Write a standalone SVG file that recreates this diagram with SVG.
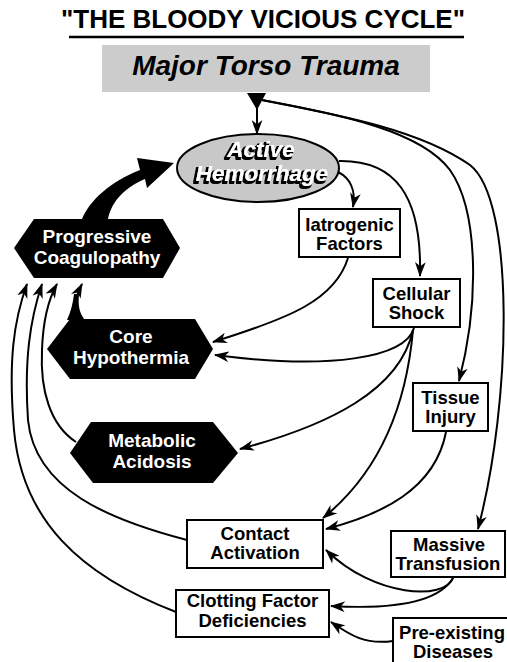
<svg xmlns="http://www.w3.org/2000/svg" width="507" height="662" viewBox="0 0 507 662">
<style>
  text { font-family: "Liberation Sans", Arial, sans-serif; font-weight: bold; }
  .box { fill: #fff; stroke: #000; stroke-width: 2; }
  .bt { font-size: 18.5px; fill: #000; text-anchor: middle; }
  .hex { fill: #000; }
  .ht { font-size: 19px; fill: #fff; text-anchor: middle; }
  .c { fill: none; stroke: #000; stroke-width: 2; marker-end: url(#ah); }
</style>
<defs>
  <marker id="ah" viewBox="0 0 14 10" refX="13" refY="5" markerWidth="15" markerHeight="11" markerUnits="userSpaceOnUse" orient="auto">
    <path d="M0,0 L14,5 L0,10 L4,5 Z" fill="#000"/>
  </marker>
  <filter id="shadow" x="-10%" y="-30%" width="120%" height="160%">
    <feMorphology in="SourceAlpha" operator="dilate" radius="0.6" result="thick"/>
    <feOffset in="thick" dx="-1.6" dy="1.6" result="off"/>
    <feFlood flood-color="#000"/>
    <feComposite in2="off" operator="in" result="sh"/>
    <feMerge>
      <feMergeNode in="sh"/>
      <feMergeNode in="SourceGraphic"/>
    </feMerge>
  </filter>
</defs>
<rect width="507" height="662" fill="#fff"/>

<g id="title">
  <text x="263" y="28" font-size="26" text-anchor="middle">"THE BLOODY VICIOUS CYCLE"</text>
  <line x1="69" y1="37" x2="464" y2="37" stroke="#000" stroke-width="2.5"/>
</g>

<g id="major-torso-trauma">
  <rect x="102" y="45" width="328" height="47" fill="#cccccc"/>
  <text x="266" y="75" font-size="28" font-style="italic" text-anchor="middle">Major Torso Trauma</text>
</g>

<g id="active-hemorrhage">
  <ellipse cx="258" cy="168" rx="81" ry="34" fill="#c8c8c8" stroke="#000" stroke-width="2"/>
  <g font-size="22.5" font-style="italic" text-anchor="middle" fill="#fff" filter="url(#shadow)">
    <text x="261" y="157">Active</text>
    <text x="262" y="181">Hemorrhage</text>
  </g>
</g>

<g id="iatrogenic-factors">
  <rect class="box" x="299" y="209" width="101" height="48"/>
  <text class="bt" x="349.5" y="231">Iatrogenic</text>
  <text class="bt" x="349.5" y="250">Factors</text>
</g>

<g id="cellular-shock">
  <rect class="box" x="373" y="279" width="87" height="48"/>
  <text class="bt" x="416.5" y="300">Cellular</text>
  <text class="bt" x="416.5" y="319">Shock</text>
</g>

<g id="tissue-injury">
  <rect class="box" x="413" y="383" width="75" height="48"/>
  <text class="bt" x="450.5" y="404">Tissue</text>
  <text class="bt" x="450.5" y="423">Injury</text>
</g>

<g id="massive-transfusion">
  <rect class="box" x="391" y="531" width="114" height="46"/>
  <text class="bt" x="449" y="551">Massive</text>
  <text class="bt" x="448" y="570">Transfusion</text>
</g>

<g id="pre-existing-diseases">
  <rect class="box" x="393" y="618" width="116" height="48"/>
  <text class="bt" x="452" y="639">Pre-existing</text>
  <text class="bt" x="453" y="658">Diseases</text>
</g>

<g id="contact-activation">
  <rect class="box" x="187" y="520" width="136" height="48"/>
  <text class="bt" x="255" y="540">Contact</text>
  <text class="bt" x="255" y="559">Activation</text>
</g>

<g id="clotting-factor-deficiencies">
  <rect class="box" x="176" y="590" width="153" height="47"/>
  <text class="bt" x="252.5" y="607">Clotting Factor</text>
  <text class="bt" x="252.5" y="627">Deficiencies</text>
</g>

<g id="progressive-coagulopathy">
  <polygon class="hex" points="14,248 34,219 163,219 180,248 163,278 34,278"/>
  <text class="ht" x="97" y="243">Progressive</text>
  <text class="ht" x="97" y="264">Coagulopathy</text>
</g>

<g id="core-hypothermia">
  <polygon class="hex" points="47,349 70,319 195,319 213,349 195,379 70,379"/>
  <text class="ht" x="131" y="343">Core</text>
  <text class="ht" x="131" y="364">Hypothermia</text>
</g>

<g id="metabolic-acidosis">
  <polygon class="hex" points="70,453 91,422 213,422 238,453 213,483 93,483"/>
  <text class="ht" x="152" y="447">Metabolic</text>
  <text class="ht" x="152" y="468">Acidosis</text>
</g>

<g id="connectors">
  <!-- trauma to hemorrhage -->
  <polygon points="247,93 266,93 257,110" fill="#000"/>
  <line class="c" x1="257" y1="100" x2="257" y2="134"/>
  <!-- trauma to tissue injury / massive transfusion -->
  <path class="c" d="M262,100 C340,115 420,130 450,170 C478,210 480,300 459,381"/>
  <path class="c" d="M262,100 C340,115 420,130 470,165 C515,200 512,400 478,529"/>
  <!-- hemorrhage to iatrogenic / cellular shock -->
  <path class="c" d="M338,172 C350,178 356,190 353,207"/>
  <path class="c" d="M339,161 C395,160 422,195 420,276"/>
  <!-- progressive coagulopathy to hemorrhage (thick) -->
  <path d="M82,219 C90,200 110,182 140,170 L137,158 L174,163 L147,188 L145,179 C126,187 112,200 108,219 Z" fill="#000"/>
  <!-- iatrogenic to core hypothermia -->
  <path class="c" d="M348,258 C335,300 290,318 213,342"/>
  <!-- cellular shock outputs -->
  <path class="c" d="M414,328 C405,358 330,370 215,355"/>
  <path class="c" d="M413,330 C400,390 330,425 240,449"/>
  <path class="c" d="M413,330 C405,420 370,480 323,518"/>
  <!-- tissue injury to contact activation -->
  <path class="c" d="M446,432 C435,490 380,515 326,529"/>
  <!-- massive transfusion outputs -->
  <path class="c" d="M453,578 C445,600 375,598 326,550"/>
  <path class="c" d="M453,578 C440,600 400,610 331,606"/>
  <!-- pre-existing to clotting -->
  <path class="c" d="M393,641 C365,645 350,635 331,622"/>
  <!-- feedback to progressive coagulopathy -->
  <path class="c" d="M176,612 C80,575 22,520 14,430 C8,360 14,320 27,284"/>
  <path class="c" d="M187,540 C110,520 35,490 28,420 C24,360 30,320 42,284"/>
  <path class="c" d="M76,442 C50,425 40,390 42,350 C43,320 48,300 57,284"/>
  <path d="M67,320 C71,311 73,303 74,294 L79,294 C78,305 79,313 85,320 Z" fill="#000"/>
  <path class="c" d="M76,300 C77,295 79,290 82,284"/>
</g>
</svg>
